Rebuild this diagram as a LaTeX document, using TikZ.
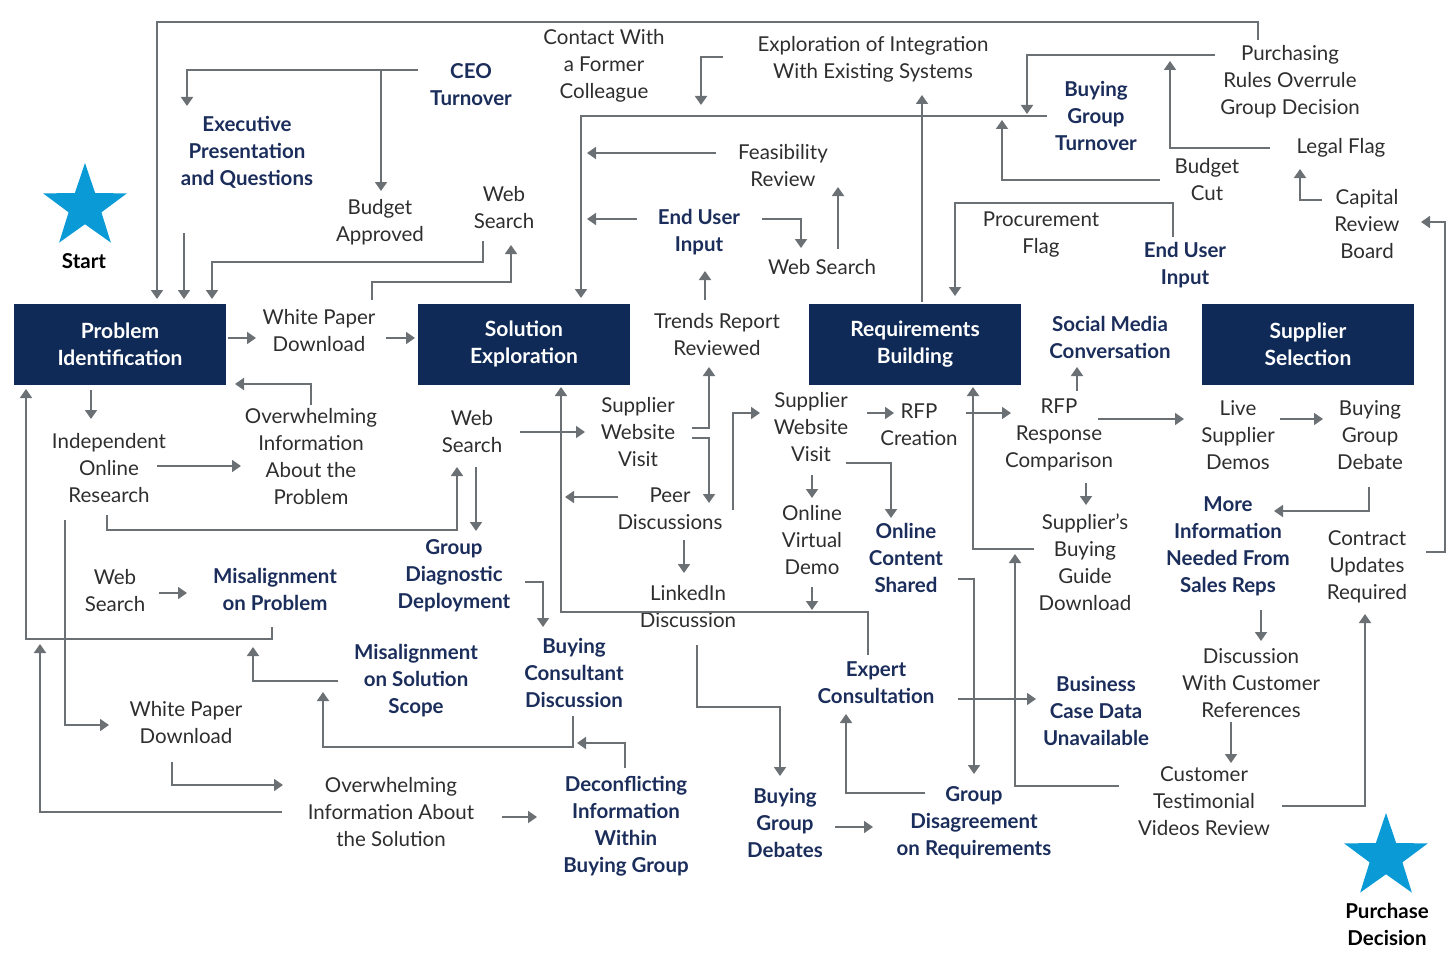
\documentclass[tikz,border=0pt]{standalone}
\usepackage{fontspec}
\setmainfont{Lato}
\usetikzlibrary{shapes.geometric,arrows.meta}
\definecolor{navy}{HTML}{0F2A57}
\definecolor{tnavy}{HTML}{1B2D5B}
\definecolor{agray}{HTML}{6B7074}
\definecolor{tgray}{HTML}{2E2E2E}
\definecolor{starblue}{HTML}{0A9BD6}
\tikzset{
 t/.style={align=center,inner sep=0pt,text=tgray,font=\fontsize{20.5}{27}\selectfont},
 b/.style={align=center,inner sep=0pt,text=tnavy,font=\fontsize{20.5}{27}\selectfont\bfseries},
 box/.style={fill=navy,minimum width=212pt,minimum height=81pt,align=center,text=white,font=\fontsize{21}{27}\selectfont\bfseries,inner sep=0pt},
 arr/.style={draw=agray,line width=1.8pt,-{Triangle[length=9pt,width=12pt]}},
 ln/.style={draw=agray,line width=1.8pt},
 st/.style={star,star points=5,star point ratio=2.55,fill=starblue,minimum size=88pt,inner sep=0pt},
}
\begin{document}
\begin{tikzpicture}[x=1pt,y=-1pt]
\useasboundingbox (0,0) rectangle (1456,963);
% boxes
\node[box] (PI) at (120,344) {Problem\\Identification};
\node[box] (SE) at (524,344) {Solution\\Exploration};
\node[box] (RB) at (915,344) {Requirements\\Building};
\node[box] (SS) at (1308,344) {Supplier\\Selection};
% stars
\node[st] (s1) at (85,207) {};
\node[b,text=black] (start) at (84,261) {Start};
\node[st] (s2) at (1386,857) {};
\node[b,text=black] (pd) at (1387,924) {Purchase\\Decision};
% gray texts
\node[t] (contact) at (604,66) {Contact With\\a Former\\Colleague};
\node[t] (expl) at (873,59) {Exploration of Integration\\With Existing Systems};
\node[t] (purch) at (1290,82) {Purchasing\\Rules Overrule\\Group Decision};
\node[t] (legal) at (1341,148) {Legal Flag};
\node[t] (bcut) at (1207,180) {Budget\\Cut};
\node[t] (capital) at (1367,224) {Capital\\Review\\Board};
\node[t] (procure) at (1041,235) {Procurement\\Flag};
\node[t] (feas) at (783,166) {Feasibility\\Review};
\node[t] (ws3) at (822,267) {Web Search};
\node[t] (bapp) at (380,222) {Budget\\Approved};
\node[t] (ws1) at (504,208) {Web\\Search};
\node[t] (wpd1) at (319,331) {White Paper\\Download};
\node[t] (trends) at (717,335) {Trends Report\\Reviewed};
\node[t] (ov1) at (311,457) {Overwhelming\\Information\\About the\\Problem};
\node[t] (indep) at (109,468) {Independent\\Online\\Research};
\node[t] (ws2) at (472,432) {Web\\Search};
\node[t] (swv1) at (638,432) {Supplier\\Website\\Visit};
\node[t] (peer) at (670,509) {Peer\\Discussions};
\node[t] (lnk) at (688,607) {LinkedIn\\Discussion};
\node[t] (swv2) at (811,427) {Supplier\\Website\\Visit};
\node[t] (rfpc) at (919,425) {RFP\\Creation};
\node[t] (ovd) at (812,540) {Online\\Virtual\\Demo};
\node[t] (rfpr) at (1059,435) {RFP\\Response\\Comparison};
\node[t] (live) at (1238,435) {Live\\Supplier\\Demos};
\node[t] (bgdb) at (1370,435) {Buying\\Group\\Debate};
\node[t] (sbg) at (1085,562) {Supplier’s\\Buying\\Guide\\Download};
\node[t] (contract) at (1367,567) {Contract\\Updates\\Required};
\node[t] (ws4) at (115,591) {Web\\Search};
\node[t] (wpd2) at (186,723) {White Paper\\Download};
\node[t] (ov2) at (391,812) {Overwhelming\\Information About\\the Solution};
\node[t] (dref) at (1251,683) {Discussion\\With Customer\\References};
\node[t] (testim) at (1204,801) {Customer\\Testimonial\\Videos Review};
% bold navy texts
\node[b] (ceo) at (471,85) {CEO\\Turnover};
\node[b] (exec) at (247,152) {Executive\\Presentation\\and Questions};
\node[b] (eui1) at (699,232) {End User\\Input};
\node[b] (bgt) at (1096,116) {Buying\\Group\\Turnover};
\node[b] (eui2) at (1185,265) {End User\\Input};
\node[b] (smc) at (1110,337) {Social Media\\Conversation};
\node[b] (more) at (1228,546) {More\\Information\\Needed From\\Sales Reps};
\node[b] (mop) at (275,589) {Misalignment\\on Problem};
\node[b] (gdd) at (454,576) {Group\\Diagnostic\\Deployment};
\node[b] (mos) at (416,681) {Misalignment\\on Solution\\Scope};
\node[b] (bcd) at (574,673) {Buying\\Consultant\\Discussion};
\node[b] (ocs) at (906,558) {Online\\Content\\Shared};
\node[b] (expert) at (876,683) {Expert\\Consultation};
\node[b] (bcdu) at (1096,711) {Business\\Case Data\\Unavailable};
\node[b] (decon) at (626,826) {Deconflicting\\Information\\Within\\Buying Group};
\node[b] (bgds) at (785,823) {Buying\\Group\\Debates};
\node[b] (gdr) at (974,823) {Group\\Disagreement\\on Requirements};
% connectors
\draw[arr] (1258,40) -- (1258,22) -- (157,22) -- (157,299);
\draw[arr] (418,70) -- (187,70) -- (187,106);
\draw[arr] (381,70) -- (381,191);
\draw[arr] (184,233) -- (184,299);
\draw[arr] (483,241) -- (483,262) -- (212,262) -- (212,299);
\draw[arr] (372,300) -- (372,282) -- (511,282) -- (511,245);
\draw[arr] (228,338) -- (256,338);
\draw[arr] (386,338) -- (415,338);
\draw[arr] (311,405) -- (311,384) -- (235,384);
\draw[arr] (91,390) -- (91,419);
\draw[arr] (157,466) -- (241,466);
\draw[arr] (107,515) -- (107,530) -- (457,530) -- (457,467);
\draw[arr] (476,467) -- (476,531);
\draw[arr] (65,520) -- (65,725) -- (109,725);
\draw[arr] (272,627) -- (272,639) -- (26,639) -- (26,389);
\draw[arr] (159,593) -- (187,593);
\draw[arr] (338,681) -- (253,681) -- (253,647);
\draw[arr] (573,716) -- (573,747) -- (323,747) -- (323,692);
\draw[arr] (625,768) -- (625,743) -- (577,743);
\draw[arr] (525,582) -- (543,582) -- (543,627);
\draw[arr] (172,762) -- (172,785) -- (283,785);
\draw[arr] (282,812) -- (40,812) -- (40,644);
\draw[arr] (502,817) -- (537,817);
\draw[arr] (520,432) -- (585,432);
\draw[arr] (692,428) -- (709,428) -- (709,367);
\draw[arr] (692,438) -- (709,438) -- (709,503);
\draw[arr] (618,497) -- (565,497);
\draw[arr] (684,540) -- (684,573);
\draw[arr] (733,510) -- (733,413) -- (760,413);
\draw[arr] (705,300) -- (705,271);
\draw[arr] (868,655) -- (868,612) -- (561,612) -- (561,387);
\draw[arr] (697,645) -- (697,707) -- (780,707) -- (780,776);
\draw[arr] (637,219) -- (587,219);
\draw[arr] (762,219) -- (801,219) -- (801,248);
\draw[arr] (838,249) -- (838,187);
\draw[arr] (716,153) -- (587,153);
\draw[arr] (1047,116) -- (581,116) -- (581,298);
\draw[arr] (723,57) -- (701,57) -- (701,105);
\draw[arr] (922,302) -- (922,95);
\draw[arr] (1215,55) -- (1027,55) -- (1027,114);
\draw[arr] (1270,148) -- (1170,148) -- (1170,61);
\draw[arr] (1160,180) -- (1002,180) -- (1002,120);
\draw[arr] (1322,200) -- (1300,200) -- (1300,169);
\draw[arr] (1173,237) -- (1173,203) -- (955,203) -- (955,296);
\draw[arr] (867,413) -- (894,413);
\draw[arr] (966,413) -- (1011,413);
\draw[arr] (1077,391) -- (1077,367);
\draw[arr] (1098,419) -- (1184,419);
\draw[arr] (1280,419) -- (1323,419);
\draw[arr] (812,475) -- (812,498);
\draw[arr] (846,463) -- (891,463) -- (891,518);
\draw[arr] (812,587) -- (812,610);
\draw[arr] (1086,483) -- (1086,505);
\draw[arr] (1034,549) -- (973,549) -- (973,387);
\draw[arr] (1369,487) -- (1369,511) -- (1274,511);
\draw[arr] (1426,552) -- (1445,552) -- (1445,222) -- (1421,222);
\draw[arr] (1261,610) -- (1261,641);
\draw[arr] (1231,722) -- (1231,763);
\draw[arr] (1282,806) -- (1365,806) -- (1365,614);
\draw[arr] (1119,786) -- (1015,786) -- (1015,554);
\draw[arr] (958,699) -- (1036,699);
\draw[arr] (958,579) -- (974,579) -- (974,774);
\draw[arr] (925,793) -- (846,793) -- (846,714);
\draw[arr] (835,827) -- (873,827);
\end{tikzpicture}
\end{document}
